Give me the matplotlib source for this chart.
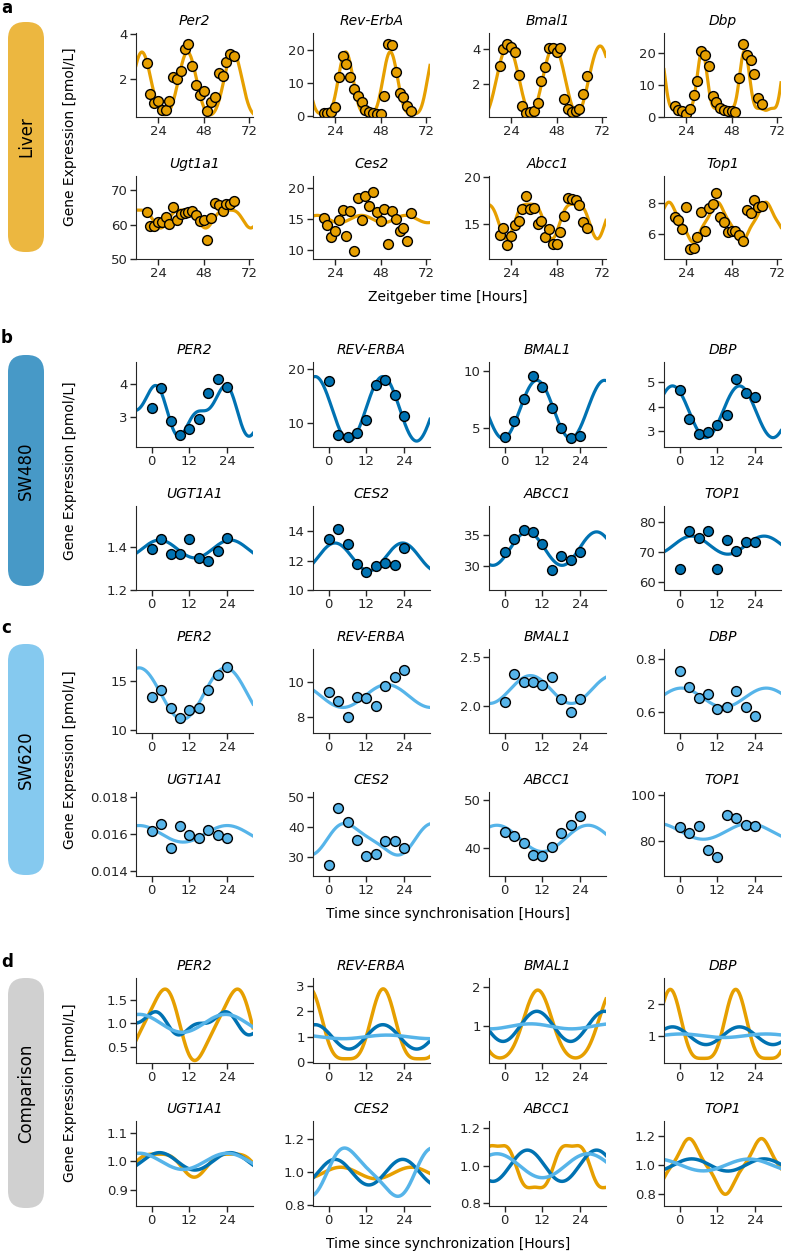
import numpy as np
import matplotlib
matplotlib.use('Agg')
import matplotlib.pyplot as plt
from matplotlib.patches import FancyBboxPatch

W, H = 787, 1251
ORANGE = '#E69F00'
DARK = '#0072B2'
LIGHT = '#56B4E9'

plt.rcParams['font.family'] = ['DejaVu Sans']
plt.rcParams['font.size'] = 9.5
plt.rcParams['axes.edgecolor'] = '#262626'
plt.rcParams['xtick.color'] = '#262626'
plt.rcParams['ytick.color'] = '#262626'

# ---------------- data ----------------
liver_genes = ['Per2', 'Rev-ErbA', 'Bmal1', 'Dbp', 'Ugt1a1', 'Ces2', 'Abcc1', 'Top1']
cell_genes = ['PER2', 'REV-ERBA', 'BMAL1', 'DBP', 'UGT1A1', 'CES2', 'ABCC1', 'TOP1']

liver_time = [18, 20, 22, 24, 26, 28, 30, 32, 34, 36, 38, 40,
              42, 44, 46, 48, 50, 52, 54, 56, 58, 60, 62, 64]
cell_time = [0, 3, 6, 9, 12, 15, 18, 21, 24]

liver_values = {
    'Per2': [2.71, 1.33, 0.93, 1.0, 0.6, 0.6, 1.0, 2.07, 2.01, 2.37, 3.33, 3.56,
             2.56, 1.75, 1.30, 1.45, 0.59, 0.96, 1.18, 2.27, 2.15, 2.76, 3.12, 3.04],
    'Rev-ErbA': [1.0, 1.0, 1.4, 2.8, 12.0, 18.3, 15.8, 12.0, 8.3, 6.1, 4.2, 2.0,
                 1.2, 1.0, 0.8, 0.7, 6.0, 21.8, 21.6, 13.4, 7.2, 5.7, 3.0, 1.5],
    'Bmal1': [3.05, 4.0, 4.3, 4.15, 3.87, 2.53, 0.76, 0.34, 0.38, 0.42, 0.91, 2.19,
              3.01, 4.1, 4.06, 3.87, 4.06, 1.14, 0.57, 0.38, 0.42, 0.57, 1.43, 2.44],
    'Dbp': [3.6, 2.05, 1.74, 1.03, 2.36, 6.97, 11.3, 20.8, 19.5, 16.0, 6.67, 4.72,
            2.87, 2.05, 1.85, 1.85, 1.64, 12.3, 22.7, 19.3, 18.0, 13.5, 5.9, 4.1],
    'Ugt1a1': [63.7, 59.5, 59.5, 60.7, 60.8, 62.2, 60.1, 65.1, 61.3, 63.2, 63.4, 63.6,
               63.9, 62.9, 61.1, 61.3, 55.5, 61.9, 66.3, 65.6, 63.9, 65.9, 66.1, 66.7],
    'Ces2': [15.2, 14.1, 12.1, 13.0, 14.8, 16.5, 12.3, 16.3, 9.8, 18.5, 14.8, 18.8,
             17.1, 19.4, 16.1, 14.6, 16.7, 11.0, 16.3, 15.0, 13.0, 13.5, 11.5, 16.0],
    'Abcc1': [13.85, 14.58, 12.73, 13.71, 14.86, 15.28, 16.57, 17.97, 16.57, 16.68, 14.93, 15.28,
              13.6, 14.48, 12.83, 12.83, 14.16, 15.8, 17.8, 17.7, 17.55, 17.0, 15.17, 14.55],
    'Top1': [7.06, 6.88, 6.29, 7.71, 5.04, 5.08, 5.83, 7.42, 6.19, 7.63, 7.92, 8.63,
             7.06, 6.77, 6.15, 6.21, 6.21, 5.96, 5.58, 7.5, 7.33, 8.17, 7.75, 7.79],
}

sw480_values = {
    'PER2': [3.28, 3.88, 2.87, 2.43, 2.61, 2.92, 3.72, 4.16, 3.91],
    'REV-ERBA': [17.7, 7.7, 7.4, 8.1, 10.6, 17.1, 18.0, 15.1, 11.25],
    'BMAL1': [4.2, 5.62, 7.5, 9.5, 8.53, 6.76, 4.94, 4.06, 4.26],
    'DBP': [4.69, 3.49, 2.89, 2.97, 3.26, 3.67, 5.15, 4.58, 4.39],
    'UGT1A1': [1.391, 1.439, 1.367, 1.367, 1.439, 1.352, 1.338, 1.383, 1.445],
    'CES2': [13.5, 14.14, 13.1, 11.77, 11.2, 11.66, 11.86, 11.7, 12.85],
    'ABCC1': [32.17, 34.35, 35.8, 35.5, 33.6, 29.3, 31.6, 31.0, 32.2],
    'TOP1': [64.2, 76.8, 74.7, 76.8, 64.2, 74.0, 70.3, 73.3, 73.3],
}

sw620_values = {
    'PER2': [13.36, 14.03, 12.21, 11.24, 12.01, 12.21, 14.03, 15.6, 16.34],
    'REV-ERBA': [9.44, 8.9, 8.02, 9.15, 9.08, 8.64, 9.78, 10.28, 10.65],
    'BMAL1': [2.047, 2.327, 2.25, 2.243, 2.217, 2.297, 2.077, 1.947, 2.07],
    'DBP': [0.756, 0.694, 0.653, 0.669, 0.61, 0.62, 0.681, 0.621, 0.587],
    'UGT1A1': [0.01618, 0.01654, 0.01524, 0.01645, 0.01596, 0.01578, 0.01622, 0.01591, 0.01575],
    'CES2': [27.5, 46.2, 41.7, 35.7, 30.2, 30.9, 35.2, 35.3, 33.1],
    'ABCC1': [43.4, 42.52, 41.02, 38.64, 38.44, 40.34, 43.2, 44.76, 46.6],
    'TOP1': [86.1, 83.3, 86.4, 76.1, 73.0, 91.1, 90.0, 87.1, 86.6],
}

# fitted rhythms: (mesor, period, [(harmonic, amplitude, peak time), ...])
liver_fit = {
    'Per2': (1.65, 24.0, [(1, 1.4, 15.5), (2, 0.15, 15.5)]),
    'Rev-ErbA': (7.8, 23.5, [(1, 9.35, 29.6), (2, 2.34, 29.6)]),
    'Bmal1': (2.25, 24.3, [(1, 1.95, 22.3)]),
    'Dbp': (7.4, 22.3, [(1, 8.0, 32.5), (2, 4.0, 32.5), (3, 1.3, 32.5)]),
    'Ugt1a1': (62.25, 23.7, [(1, 2.6, 13.5), (2, -0.65, 13.5)]),
    'Ces2': (15.0, 23.3, [(1, 0.6, 37.9)]),
    'Abcc1': (15.71, 23.9, [(1, 1.85, 33.6), (2, -0.46, 33.6)]),
    'Top1': (6.75, 25.5, [(1, 1.15, 40.5), (3, 0.13, 40.5)]),
}
sw480_fit = {
    'PER2': (3.18, 22.3, [(1, 0.6, 21.64), (2, 0.3, 24.43)]),
    'REV-ERBA': (12.6, 21.5, [(1, 6.0, 17.2)]),
    'BMAL1': (6.6, 21.5, [(1, 2.55, 10.2)]),
    'DBP': (3.8, 21.3, [(1, 1.05, 19.0)]),
    'UGT1A1': (1.393, 22.5, [(1, 0.042, 2.5)]),
    'CES2': (12.25, 21.5, [(1, 0.95, 23.5)]),
    'ABCC1': (32.8, 22.0, [(1, 2.75, 7.2)]),
    'TOP1': (72.2, 23.0, [(1, 3.0, 3.8)]),
}
sw620_fit = {
    'PER2': (13.7, 27.5, [(1, 2.6, 23.5)]),
    'REV-ERBA': (9.2, 28.0, [(1, 0.65, 18.5)]),
    'BMAL1': (2.17, 26.0, [(1, 0.14, 8.2)]),
    'DBP': (0.655, 27.0, [(1, 0.036, 0.5)]),
    'UGT1A1': (0.016, 28.0, [(1, 0.00045, 24.0)]),
    'CES2': (35.9, 28.0, [(1, 4.9, 6.5), (2, 1.0, 3.0)]),
    'ABCC1': (42.05, 29.0, [(1, 2.7, 26.5)]),
    'TOP1': (84.2, 29.0, [(1, 3.4, 22.0)]),
}
# liver rhythms rescaled and aligned to time since synchronisation
liver_aligned_fit = {
    'PER2': (0.97, 23.0, [(1, 0.72, 3.2), (2, 0.12, 6.1)]),
    'REV-ERBA': (1.17, 23.3, [(1, 1.365, 17.3), (2, 0.34, 17.3)]),
    'BMAL1': (0.94, 24.0, [(1, 0.87, 10.5), (2, 0.12, 10.5)]),
    'DBP': (1.1, 20.8, [(1, 1.075, 17.8), (2, 0.27, 17.8)]),
    'UGT1A1': (0.995, 23.7, [(1, 0.04, 25.35), (2, -0.01, 25.35)]),
    'CES2': (0.995, 22.5, [(1, 0.035, 3.8)]),
    'ABCC1': (0.995, 23.5, [(1, 0.13, 21.3), (3, -0.02, 21.3)]),
    'TOP1': (0.99, 23.0, [(1, 0.17, 3.0), (3, 0.02, 3.0)]),
}

liver_ylim = {'Per2': (0.3, 4.05), 'Rev-ErbA': (-0.2, 25.2), 'Bmal1': (0.1, 4.95), 'Dbp': (0, 26.3),
              'Ugt1a1': (50, 74.1), 'Ces2': (8.5, 22), 'Abcc1': (11.25, 20.1), 'Top1': (4.4, 9.7)}
liver_yticks = {'Per2': [2, 4], 'Rev-ErbA': [0, 10, 20], 'Bmal1': [2, 4], 'Dbp': [0, 10, 20],
                'Ugt1a1': [50, 60, 70], 'Ces2': [10, 15, 20], 'Abcc1': [15, 20], 'Top1': [6, 8]}
sw480_ylim = {'PER2': (2.07, 4.68), 'REV-ERBA': (5.5, 21.3), 'BMAL1': (3.3, 10.76), 'DBP': (2.37, 5.82),
              'UGT1A1': (1.2, 1.595), 'CES2': (10, 15.72), 'ABCC1': (26, 39.8), 'TOP1': (57.3, 85.2)}
sw480_yticks = {'PER2': [3, 4], 'REV-ERBA': [10, 20], 'BMAL1': [5, 10], 'DBP': [3, 4, 5],
                'UGT1A1': [1.2, 1.4], 'CES2': [10, 12, 14], 'ABCC1': [30, 35], 'TOP1': [60, 70, 80]}
sw620_ylim = {'PER2': (9.73, 18.2), 'REV-ERBA': (7.1, 11.87), 'BMAL1': (1.733, 2.577), 'DBP': (0.521, 0.839),
              'UGT1A1': (0.01371, 0.01827), 'CES2': (23.7, 51.6), 'ABCC1': (34.35, 51.56), 'TOP1': (65, 101.1)}
sw620_yticks = {'PER2': [10, 15], 'REV-ERBA': [8, 10], 'BMAL1': [2.0, 2.5], 'DBP': [0.6, 0.8],
                'UGT1A1': [0.014, 0.016, 0.018], 'CES2': [30, 40, 50], 'ABCC1': [40, 50], 'TOP1': [80, 100]}
comp_ylim = {'PER2': (0.16, 1.96), 'REV-ERBA': (-0.02, 3.3), 'BMAL1': (0.06, 2.24), 'DBP': (0.15, 2.8),
             'UGT1A1': (0.845, 1.14), 'CES2': (0.795, 1.31), 'ABCC1': (0.784, 1.24), 'TOP1': (0.72, 1.3)}
comp_yticks = {'PER2': [0.5, 1.0, 1.5], 'REV-ERBA': [0, 1, 2, 3], 'BMAL1': [1, 2], 'DBP': [1, 2],
               'UGT1A1': [0.9, 1.0, 1.1], 'CES2': [0.8, 1.0, 1.2], 'ABCC1': [0.8, 1.0, 1.2], 'TOP1': [0.8, 1.0, 1.2]}

liver_xticks = [24, 48, 72]
cell_xticks = [0, 12, 24]


def fit_curve(t, mesor, period, terms):
    y = np.full_like(t, mesor, dtype=float)
    for k, amp, peak in terms:
        y += amp * np.cos(2 * np.pi * k * (t - peak) / period)
    return y


# ---------------- layout (pixels) ----------------
fig = plt.figure(figsize=(W / 100, H / 100), dpi=100)


def px_axes(left, top, width, height):
    return fig.add_axes([left / W, 1 - (top + height) / H, width / W, height / H])


col_left = [136, 313, 489, 664]
ax_w = 117
rows = {'a': [(33, 117), (176, 259)], 'b': [(362, 447), (506, 590)],
        'c': [(649, 733), (792, 876)], 'd': [(978, 1063), (1121, 1206)]}
boxes = {'a': (22, 252, 'Liver', ORANGE, 0.75), 'b': (355, 586, 'SW480', DARK, 0.72),
         'c': (644, 875, 'SW620', LIGHT, 0.72), 'd': (978, 1208, 'Comparison', '#C8C8C8', 0.85)}
letters = {'a': 13, 'b': 343, 'c': 633, 'd': 967}
xlabels = {'a': 'Zeitgeber time [Hours]', 'c': 'Time since synchronisation [Hours]',
           'd': 'Time since synchronization [Hours]'}


def style(ax, ylim, yticks, xlim, xticks, title):
    ax.set_xlim(*xlim)
    ax.set_ylim(*ylim)
    ax.set_xticks(xticks)
    ax.set_yticks(yticks)
    ax.spines['top'].set_visible(False)
    ax.spines['right'].set_visible(False)
    ax.tick_params(length=4, width=1, labelsize=9.5, pad=2)
    ax.set_title(title, style='italic', fontsize=10, pad=6)


def panel_axes(key):
    out = []
    for top, bottom in rows[key]:
        for left in col_left:
            out.append(px_axes(left, top, ax_w, bottom - top))
    return out


# panel a: liver
liver_xlim = (12.4, 74)
t_liver = np.linspace(*liver_xlim, 500)
for ax, g in zip(panel_axes('a'), liver_genes):
    ax.plot(t_liver, fit_curve(t_liver, *liver_fit[g]), color=ORANGE, lw=2.3, zorder=1)
    ax.scatter(liver_time, liver_values[g], s=50, color=ORANGE, edgecolor='black', lw=1, zorder=2)
    style(ax, liver_ylim[g], liver_yticks[g], liver_xlim, liver_xticks, g)

# panels b and c: cell lines
cell_xlim = (-5, 32.2)
t_cell = np.linspace(*cell_xlim, 400)
for key, values, fits, ylims, yticks, col in [('b', sw480_values, sw480_fit, sw480_ylim, sw480_yticks, DARK),
                                              ('c', sw620_values, sw620_fit, sw620_ylim, sw620_yticks, LIGHT)]:
    for ax, g in zip(panel_axes(key), cell_genes):
        ax.plot(t_cell, fit_curve(t_cell, *fits[g]), color=col, lw=2.3, zorder=1)
        ax.scatter(cell_time, values[g], s=50, color=col, edgecolor='black', lw=1, zorder=2)
        style(ax, ylims[g], yticks[g], cell_xlim, cell_xticks, g)

# panel d: comparison of normalised rhythms
for ax, g in zip(panel_axes('d'), cell_genes):
    ax.plot(t_cell, fit_curve(t_cell, *liver_aligned_fit[g]), color=ORANGE, lw=2.5)
    m480 = sw480_fit[g][0]
    ax.plot(t_cell, fit_curve(t_cell, *sw480_fit[g]) / m480, color=DARK, lw=2.5)
    m620 = sw620_fit[g][0]
    ax.plot(t_cell, fit_curve(t_cell, *sw620_fit[g]) / m620, color=LIGHT, lw=2.5)
    style(ax, comp_ylim[g], comp_yticks[g], cell_xlim, cell_xticks, g)

# side boxes, letters and shared labels
for key, (top, bottom, label, color, alpha) in boxes.items():
    h = bottom - top
    bax = px_axes(8, top, 36, h)
    bax.set_xlim(0, 36)
    bax.set_ylim(0, h)
    bax.axis('off')
    bax.add_patch(FancyBboxPatch((0, 0), 36, h, boxstyle='round,pad=0,rounding_size=17',
                                 fc=color, ec='none', alpha=alpha))
    bax.text(18, h / 2, label, rotation=90, ha='center', va='center', fontsize=12)
    fig.text(70 / W, 1 - (top + h / 2) / H, 'Gene Expression [pmol/L]', rotation=90,
             ha='center', va='center', fontsize=10)
    fig.text(1 / W, 1 - letters[key] / H, key, fontweight='bold', fontsize=12, va='baseline')
    if key in xlabels:
        fig.text(448 / W, 1 - (rows[key][1][1] + 38) / H, xlabels[key], ha='center',
                 va='center', fontsize=10)

fig.savefig('out.png', dpi=100)
